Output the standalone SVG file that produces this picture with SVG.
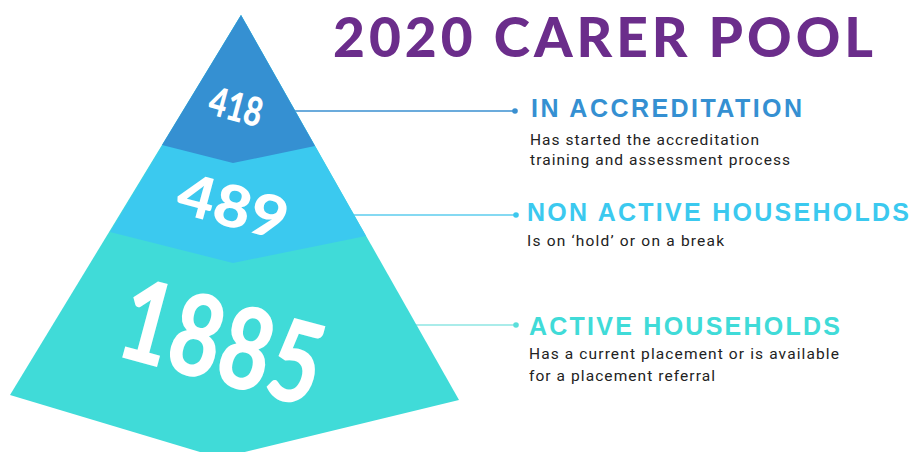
<svg xmlns="http://www.w3.org/2000/svg" width="915" height="452" viewBox="0 0 915 452">
<style>
.num{font-family:Lato,"Open Sans","DejaVu Sans",sans-serif;font-weight:900;fill:#fff;text-anchor:middle}
.title{font-family:Lato,"Liberation Sans",sans-serif;font-weight:900;fill:#6B2D8B}
.head{font-family:"Liberation Sans",Arial,sans-serif;font-weight:700;font-size:25px}
.desc{font-family:Roboto,"Liberation Sans",sans-serif;font-weight:400;font-size:15.5px;fill:#222}
.c1{fill:#3590D2}.c2{fill:#3BC9EF}.c3{fill:#40DBD8}
</style>
<rect width="915" height="452" fill="#fff"/>
<g id="connectors" stroke-width="1.5">
<line x1="295" y1="111" x2="515" y2="111" stroke="#3A8FD0"/>
<circle cx="515" cy="111" r="2.8" fill="#3A8FD0"/>
<line x1="354" y1="215" x2="516" y2="215" stroke="#5CCDEE"/>
<circle cx="516" cy="215" r="2.8" fill="#3CC8EE"/>
<line x1="416" y1="325" x2="516" y2="325" stroke="#8EE6E3"/>
<circle cx="516" cy="325" r="2.8" fill="#5ADFDB"/>
</g>
<g id="tier-active">
<polygon class="c3" points="241,15 459,400 220,458 10,395"/>
<text class="num" font-size="114" transform="translate(222,342) rotate(15)" y="41" textLength="205" lengthAdjust="spacingAndGlyphs">1885</text>
</g>
<g id="tier-nonactive">
<polygon class="c2" points="241,15 366,236 233,263 110,232"/>
<text class="num" font-size="58" transform="translate(233,206) rotate(15)" y="21" textLength="112" lengthAdjust="spacingAndGlyphs">489</text>
</g>
<g id="tier-accreditation">
<polygon class="c1" points="241,15 315,146 233,163 162,145"/>
<text class="num" font-size="40" transform="translate(236,107) rotate(15)" y="14" textLength="54" lengthAdjust="spacingAndGlyphs">418</text>
</g>
<g id="title">
<text class="title" x="333" y="57" font-size="55" textLength="540" lengthAdjust="spacing">2020 CARER POOL</text>
</g>
<g id="label-accreditation">
<text class="head c1" x="531" y="117" textLength="271" lengthAdjust="spacing">IN ACCREDITATION</text>
<text class="desc" x="530" y="145" textLength="229" lengthAdjust="spacing">Has started the accreditation</text>
<text class="desc" x="530" y="165" textLength="260" lengthAdjust="spacing">training and assessment process</text>
</g>
<g id="label-nonactive">
<text class="head c2" x="527" y="221" textLength="382" lengthAdjust="spacing">NON ACTIVE HOUSEHOLDS</text>
<text class="desc" x="527" y="246" textLength="197" lengthAdjust="spacing">Is on ‘hold’ or on a break</text>
</g>
<g id="label-active">
<text class="head c3" x="529" y="335" textLength="311" lengthAdjust="spacing">ACTIVE HOUSEHOLDS</text>
<text class="desc" x="529" y="359" textLength="310" lengthAdjust="spacing">Has a current placement or is available</text>
<text class="desc" x="529" y="381" textLength="186" lengthAdjust="spacing">for a placement referral</text>
</g>
</svg>
